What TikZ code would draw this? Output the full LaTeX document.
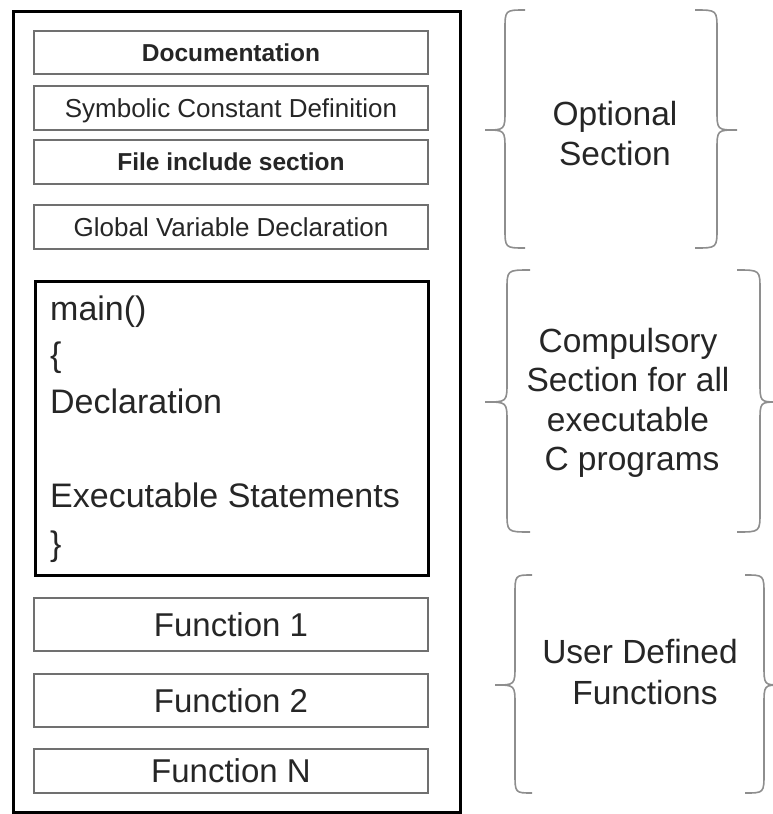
\documentclass[tikz,border=0pt]{standalone}
\usepackage{fontspec}
\setmainfont{Liberation Sans}
\definecolor{txt}{HTML}{262626}
\definecolor{boxgray}{HTML}{707070}
\definecolor{bracegray}{HTML}{8E8E8E}
\newcommand\mybrace[6]{%
  \draw[bracestyle] (#1,#4) .. controls (#2,#4) .. (#2,#4+20) -- (#2,#5-20)
    .. controls (#2,#5) .. (#3,#5) .. controls (#2,#5) .. (#2,#5+20)
    -- (#2,#6-20) .. controls (#2,#6) .. (#1,#6);}
\begin{document}
\begin{tikzpicture}[x=1pt,y=-1pt,
  bracestyle/.style={draw=bracegray, line width=1.6pt},
  smallbox/.style={draw=boxgray, line width=1.5pt, minimum width=394pt,
    inner sep=0pt, text=txt, font=\fontsize{26}{30}\selectfont,
    text height=18.6pt, text depth=0pt},
  boldbox/.style={smallbox, font=\fontsize{24.5}{30}\selectfont\bfseries, text height=17.6pt},
  funbox/.style={smallbox, font=\fontsize{33}{38}\selectfont, text height=23.6pt},
  mainline/.style={anchor=base west, inner sep=0pt, text=txt, font=\fontsize{34}{40}\selectfont},
  label/.style={anchor=base, inner sep=0pt, text=txt, font=\fontsize{33.5}{40}\selectfont}]
\useasboundingbox (0,0) rectangle (773,814);
% outer frame
\node[draw=black, line width=3pt, minimum width=447pt, minimum height=801pt, inner sep=0pt] (frame) at (236.5,411.5) {};
% optional boxes
\node[boldbox, minimum height=43pt] (doc) at (231,52.5) {Documentation};
\node[smallbox, minimum height=44pt] (sym) at (231,108) {Symbolic Constant Definition};
\node[boldbox, minimum height=44pt] (inc) at (231,162) {File include section};
\node[smallbox, minimum height=44pt] (glob) at (231,227) {Global Variable Declaration};
% main box
\node[draw=black, line width=3pt, minimum width=393pt, minimum height=294pt, inner sep=0pt] (mainbox) at (231.5,428) {};
\node[mainline] (m1) at (50,320) {main()};
\node[mainline] (m2) at (50,366) {\{};
\node[mainline] (m3) at (50,413) {Declaration};
\node[mainline] (m4) at (50,507) {Executable Statements};
\node[mainline] (m5) at (50,555) {\}};
% function boxes
\node[funbox, minimum height=53pt] (f1) at (231,624.5) {Function 1};
\node[funbox, minimum height=53pt] (f2) at (231,700.5) {Function 2};
\node[funbox, minimum height=44pt] (fn) at (231,771) {Function N};
% labels
\node[label] (o1) at (615,125) {Optional};
\node[label] (o2) at (615,165) {Section};
\node[label] (c1) at (628,352) {Compulsory};
\node[label] (c2) at (628,391) {Section for all};
\node[label] (c3) at (628,431) {executable};
\node[label] (c4) at (632,470) {C programs};
\node[label] (u1) at (640,663) {User Defined};
\node[label] (u2) at (645,704) {Functions};
% braces
\mybrace{525}{505}{485}{10}{130}{248}
\mybrace{695}{717}{737}{10}{130}{248}
\mybrace{530}{507}{485}{270}{402}{532}
\mybrace{737}{760}{778}{270}{402}{532}
\mybrace{532}{515}{495}{575}{685}{793}
\mybrace{745}{764}{781}{575}{685}{793}
\end{tikzpicture}
\end{document}
